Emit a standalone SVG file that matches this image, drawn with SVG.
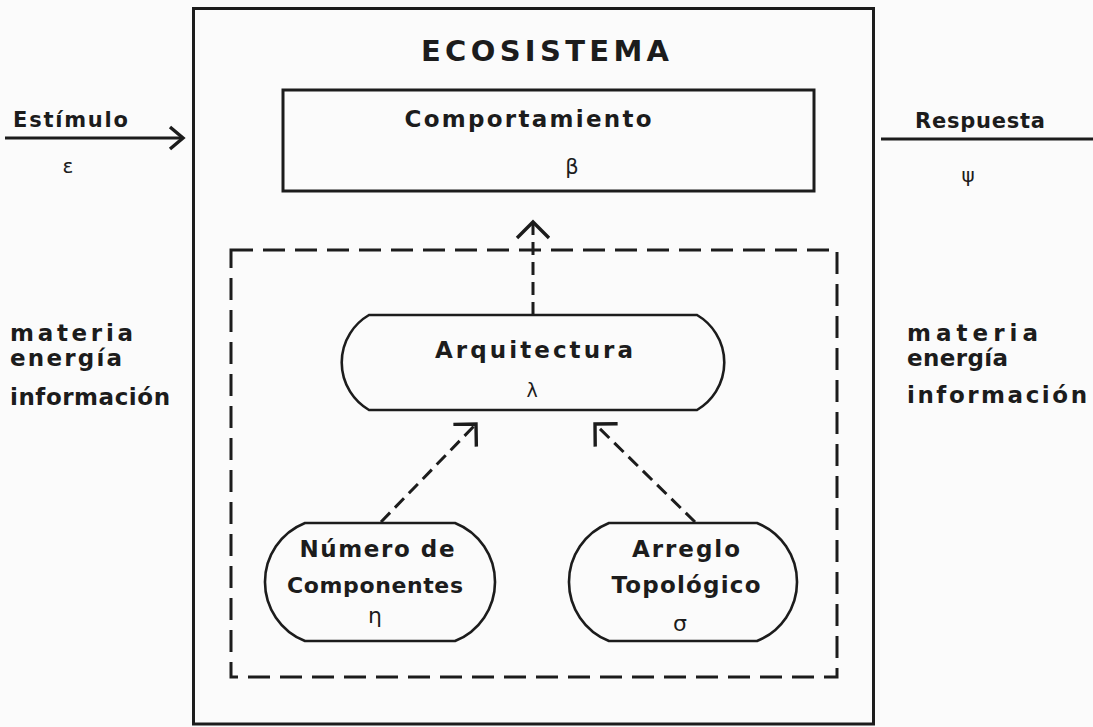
<svg xmlns="http://www.w3.org/2000/svg" width="1093" height="727" viewBox="0 0 1093 727">
<style>
.bg{fill:#fbfbfb}
.solid{fill:none;stroke:#1c1c1c;stroke-width:3}
.pill{fill:none;stroke:#1c1c1c;stroke-width:2.6}
.dash{fill:none;stroke:#1c1c1c;stroke-width:3;stroke-dasharray:22 10}
.conn{fill:none;stroke:#1c1c1c;stroke-width:3;stroke-dasharray:13 7}
.line{fill:none;stroke:#1c1c1c;stroke-width:3}
text{font-family:"DejaVu Sans","Liberation Sans",sans-serif;fill:#1c1c1c}
.b{font-weight:bold}
.g{font-weight:normal}
</style>
<defs>
<marker id="head" markerUnits="userSpaceOnUse" markerWidth="40" markerHeight="40" refX="0" refY="0" viewBox="-20 -20 40 40" orient="auto" overflow="visible">
<path d="M-16,-16 L0,0 L-16,16" fill="none" stroke="#1c1c1c" stroke-width="3.4" stroke-dasharray="none"/>
</marker>
<marker id="headS" markerUnits="userSpaceOnUse" markerWidth="40" markerHeight="40" refX="0" refY="0" viewBox="-20 -20 40 40" orient="auto" overflow="visible">
<path d="M-13,-11 L0,0 L-13,11" fill="none" stroke="#1c1c1c" stroke-width="3.4" stroke-dasharray="none"/>
</marker>
</defs>
<rect class="bg" x="0" y="0" width="1093" height="727"/>

<g id="ecosistema">
<rect class="solid" x="193.5" y="8.5" width="680" height="715.5"/>
<text class="b" x="545" y="61" font-size="29" text-anchor="middle" textLength="248" lengthAdjust="spacing">ECOSISTEMA</text>
</g>

<g id="comportamiento">
<rect class="solid" x="283" y="90" width="531" height="101"/>
<text class="b" x="528" y="127" font-size="23" text-anchor="middle" textLength="247" lengthAdjust="spacing">Comportamiento</text>
<text class="g" x="572" y="174" font-size="21" text-anchor="middle">β</text>
</g>

<g id="estructura">
<rect class="dash" x="231" y="250" width="606" height="427"/>
</g>

<g id="arquitectura">
<path class="pill" d="M369,315 H697 A55,55 0 0 1 697,410 H369 A55,55 0 0 1 369,315 Z"/>
<text class="b" x="534" y="358" font-size="23" text-anchor="middle" textLength="198" lengthAdjust="spacing">Arquitectura</text>
<text class="g" x="532" y="397" font-size="19" text-anchor="middle">λ</text>
</g>

<g id="numero">
<path class="pill" d="M305,523 H455 A63.5,63.5 0 0 1 455,641 H305 A63.5,63.5 0 0 1 305,523 Z"/>
<text class="b" x="377" y="557" font-size="23" text-anchor="middle" textLength="155" lengthAdjust="spacing">Número de</text>
<text class="b" x="375" y="593" font-size="22" text-anchor="middle" textLength="176" lengthAdjust="spacing">Componentes</text>
<text class="g" x="375" y="623" font-size="22" text-anchor="middle">η</text>
</g>

<g id="arreglo">
<path class="pill" d="M609,523 H757 A63.5,63.5 0 0 1 757,641 H609 A63.5,63.5 0 0 1 609,523 Z"/>
<text class="b" x="686" y="557" font-size="23" text-anchor="middle" textLength="108" lengthAdjust="spacing">Arreglo</text>
<text class="b" x="686" y="593" font-size="23" text-anchor="middle" textLength="149" lengthAdjust="spacing">Topológico</text>
<text class="g" x="680" y="631" font-size="22" text-anchor="middle">σ</text>
</g>

<g id="entrada">
<text class="b" x="13" y="127" font-size="21" textLength="115" lengthAdjust="spacing">Estímulo</text>
<text class="g" x="68" y="173" font-size="20" text-anchor="middle">ε</text>
<text class="b" x="10" y="341" font-size="23" textLength="123" lengthAdjust="spacing">materia</text>
<text class="b" x="10" y="366" font-size="23" textLength="112" lengthAdjust="spacing">energía</text>
<text class="b" x="10" y="405" font-size="23" textLength="160" lengthAdjust="spacing">información</text>
</g>

<g id="salida">
<text class="b" x="915" y="128" font-size="21" textLength="130" lengthAdjust="spacing">Respuesta</text>
<text class="g" x="968" y="182" font-size="20" text-anchor="middle">ψ</text>
<text class="b" x="907" y="341" font-size="23" textLength="131" lengthAdjust="spacing">materia</text>
<text class="b" x="907" y="366" font-size="23" textLength="101" lengthAdjust="spacing">energía</text>
<text class="b" x="907" y="403" font-size="23" textLength="180" lengthAdjust="spacing">información</text>
</g>

<g id="connectors">
<line class="line" x1="5" y1="138" x2="183" y2="138" marker-end="url(#headS)"/>
<line class="line" x1="881" y1="139" x2="1093" y2="139"/>
<line class="conn" x1="533" y1="315" x2="533" y2="222" marker-end="url(#head)"/>
<line class="conn" x1="381" y1="522" x2="476" y2="424" marker-end="url(#head)"/>
<line class="conn" x1="695" y1="522" x2="595" y2="424" marker-end="url(#head)"/>
</g>
</svg>
